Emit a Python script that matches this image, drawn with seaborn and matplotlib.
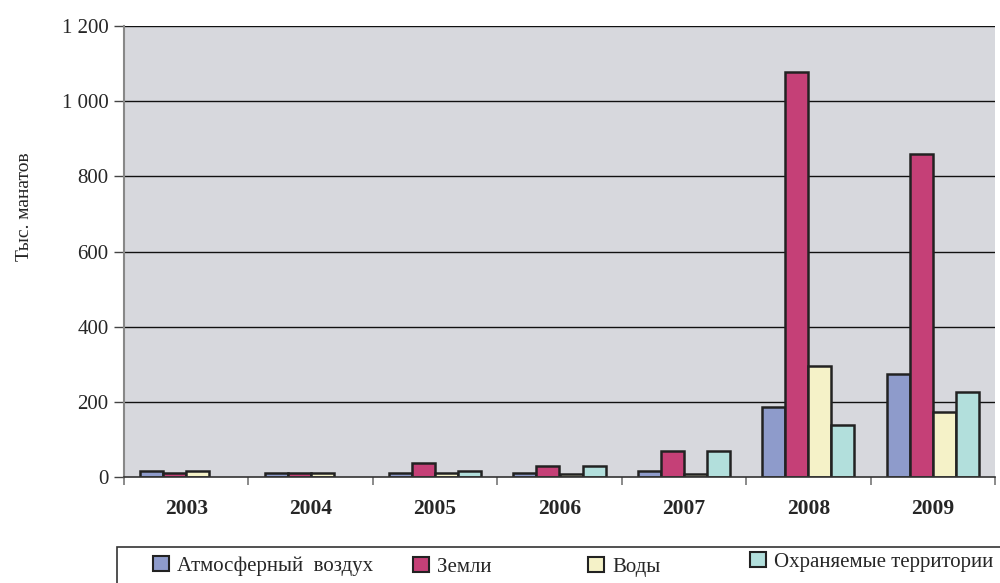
import matplotlib
matplotlib.use('Agg')
import matplotlib.pyplot as plt
import numpy as np
import pandas as pd
import seaborn as sns
from matplotlib.patches import Patch, Rectangle
from matplotlib.ticker import FuncFormatter, FixedLocator

years = ['2003', '2004', '2005', '2006', '2007', '2008', '2009']
series = ['Атмосферный  воздух', 'Земли', 'Воды', 'Охраняемые территории']
air = [16, 10, 10, 10, 17, 185, 275]
land = [10, 10, 38, 30, 69, 1077, 859]
water = [16, 10, 10, 9, 9, 295, 174]
protected = [np.nan, np.nan, 16, 30, 69, 137, 226]
colors = ['#8E9BCB', '#C54077', '#F5F2C8', '#B2DFDC']

df = pd.DataFrame({'year': years, series[0]: air, series[1]: land,
                   series[2]: water, series[3]: protected})
df = df.melt(id_vars='year', var_name='series', value_name='value')

sns.set_theme(style='white')
plt.rcParams['font.family'] = ['Liberation Serif', 'DejaVu Serif']

fig = plt.figure(figsize=(10, 5.83), dpi=100)
ax = fig.add_axes([0.124, 0.182, 0.871, 0.773])
ax.set_facecolor('#D7D8DD')

sns.barplot(data=df, x='year', y='value', hue='series', order=years,
            hue_order=series, palette=colors, width=0.74, dodge=True,
            edgecolor='#222222', linewidth=1.8, errorbar=None, ax=ax,
            legend=False, saturation=1)

ax.set_ylim(0, 1200)
ax.set_xlim(-0.5, 6.5)
ax.set_yticks(range(0, 1201, 200))
ax.yaxis.set_major_formatter(FuncFormatter(lambda v, p: f'{int(v):,}'.replace(',', ' ')))
for y in range(200, 1201, 200):
  ax.axhline(y, color='#111111', lw=1.0, zorder=0.5)

ax.xaxis.set_minor_locator(FixedLocator(np.arange(-0.5, 7, 1)))
ax.tick_params(axis='x', which='major', length=0, labelsize=15.5, pad=16)
ax.tick_params(axis='x', which='minor', bottom=True, length=6, width=1.2,
               color='#777777', direction='out')
ax.tick_params(axis='y', left=True, length=7, width=1, color='#444444',
               direction='out', labelsize=15, pad=4)
for lab in ax.get_xticklabels():
  lab.set_fontweight('bold')

for side in ['top', 'right']:
  ax.spines[side].set_visible(False)
ax.spines['left'].set_color('#888888')
ax.spines['left'].set_linewidth(1.5)
ax.spines['bottom'].set_color('#333333')
ax.spines['bottom'].set_linewidth(1.2)

ax.set_xlabel('')
ax.set_ylabel('')
fig.text(0.025, 0.645, 'Тыс. манатов', rotation=90, ha='center', va='center', fontsize=14)

# legend frame (cut by the figure edge, as in the source)
fig.patches.append(Rectangle((0.117, -0.1), 1.0, 0.1 + 36 / 583, transform=fig.transFigure,
                             facecolor='white', edgecolor='#333333', lw=1.2))

# legend entries placed individually
anchors = [(0.153, 1 - 566 / 583), (0.413, 1 - 567 / 583), (0.588, 1 - 567 / 583), (0.750, 1 - 562 / 583)]
for name, c, pos in zip(series, colors, anchors):
  fig.legend([Patch(facecolor=c, edgecolor='#222222', linewidth=1.5)], [name],
             loc='center left', bbox_to_anchor=pos, frameon=False, fontsize=15,
             handlelength=0.75, handleheight=0.75, handletextpad=0.4,
             borderpad=0, borderaxespad=0)

fig.savefig('out.png', dpi=100)
